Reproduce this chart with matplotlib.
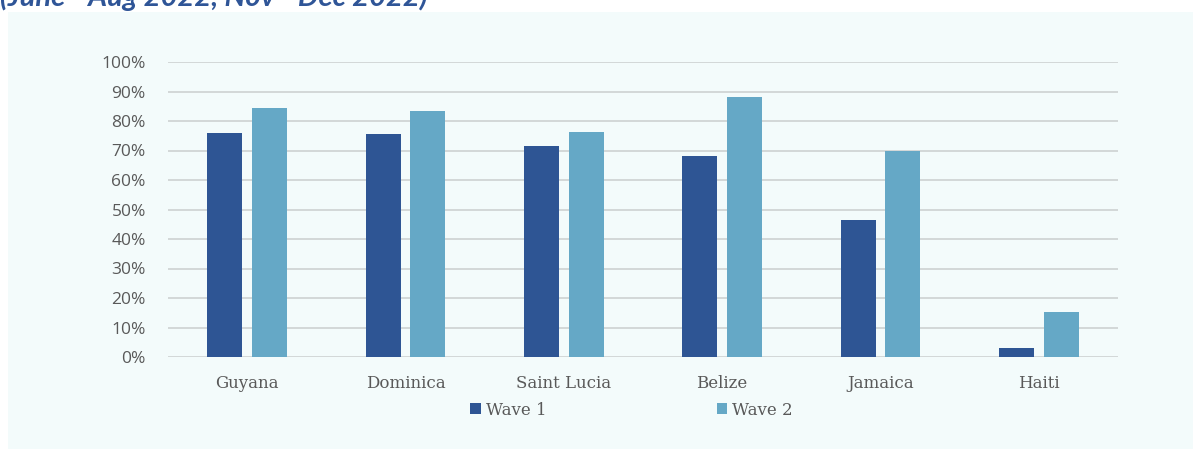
import numpy as np
import matplotlib.pyplot as plt
from matplotlib.patches import Rectangle
from matplotlib.ticker import PercentFormatter

countries = ["Guyana", "Dominica", "Saint Lucia", "Belize", "Jamaica", "Haiti"]
wave1 = [75.9, 75.6, 71.5, 68.1, 46.4, 3.2]
wave2 = [84.4, 83.4, 76.3, 88.1, 69.8, 15.2]

c_w1 = "#2E5594"
c_w2 = "#65A8C6"
bg = "#F3FBFB"
txt = "#595959"

fig = plt.figure(figsize=(11.93, 4.49), dpi=100)
fig.patch.set_facecolor("white")

# shaded panel behind the chart
fig.patches.append(Rectangle((8 / 1193, 0), 1, 1 - 12 / 449, transform=fig.transFigure,
                             facecolor=bg, edgecolor="none", zorder=-5))

# subtitle sits at the very top, partly cut off
fig.text(0.0, 1 - 6 / 449, "(June - Aug 2022, Nov - Dec 2022)", fontsize=21,
         fontweight="bold", fontstyle="italic", color="#2F5597", family="Lato",
         ha="left", va="baseline")

ax = fig.add_axes([168 / 1193, 1 - 357 / 449, 950 / 1193, 295 / 449])
ax.set_facecolor("none")

x = np.arange(len(countries))
w = 0.221
off = 0.142
ax.bar(x - off, wave1, w, color=c_w1, label="Wave 1", zorder=3)
ax.bar(x + off, wave2, w, color=c_w2, label="Wave 2", zorder=3)

ax.set_xlim(-0.5, len(countries) - 0.5)
ax.set_ylim(0, 100)
ax.set_yticks(np.arange(0, 101, 10))
ax.yaxis.set_major_formatter(PercentFormatter(decimals=0))
ax.grid(axis="y", color="#D3D8D8", linewidth=1.4, zorder=0)
for s in ax.spines.values():
    s.set_visible(False)
ax.tick_params(axis="both", length=0)
ax.tick_params(axis="y", labelsize=12.5, labelcolor=txt, pad=16)
ax.set_xticks(x)
ax.set_xticklabels(countries, family="DejaVu Serif", fontsize=12, color=txt)
ax.tick_params(axis="x", pad=13)
for lab in ax.get_yticklabels():
    lab.set_family("Open Sans")

leg = ax.legend(loc="center", bbox_to_anchor=(0.488, -0.18), ncol=2, frameon=False,
                handlelength=0.65, handleheight=0.65, handletextpad=0.3,
                columnspacing=10.2, prop={"family": "DejaVu Serif", "size": 12})
for t in leg.get_texts():
    t.set_color(txt)

fig.savefig("out.png", dpi=100, facecolor=fig.get_facecolor())
